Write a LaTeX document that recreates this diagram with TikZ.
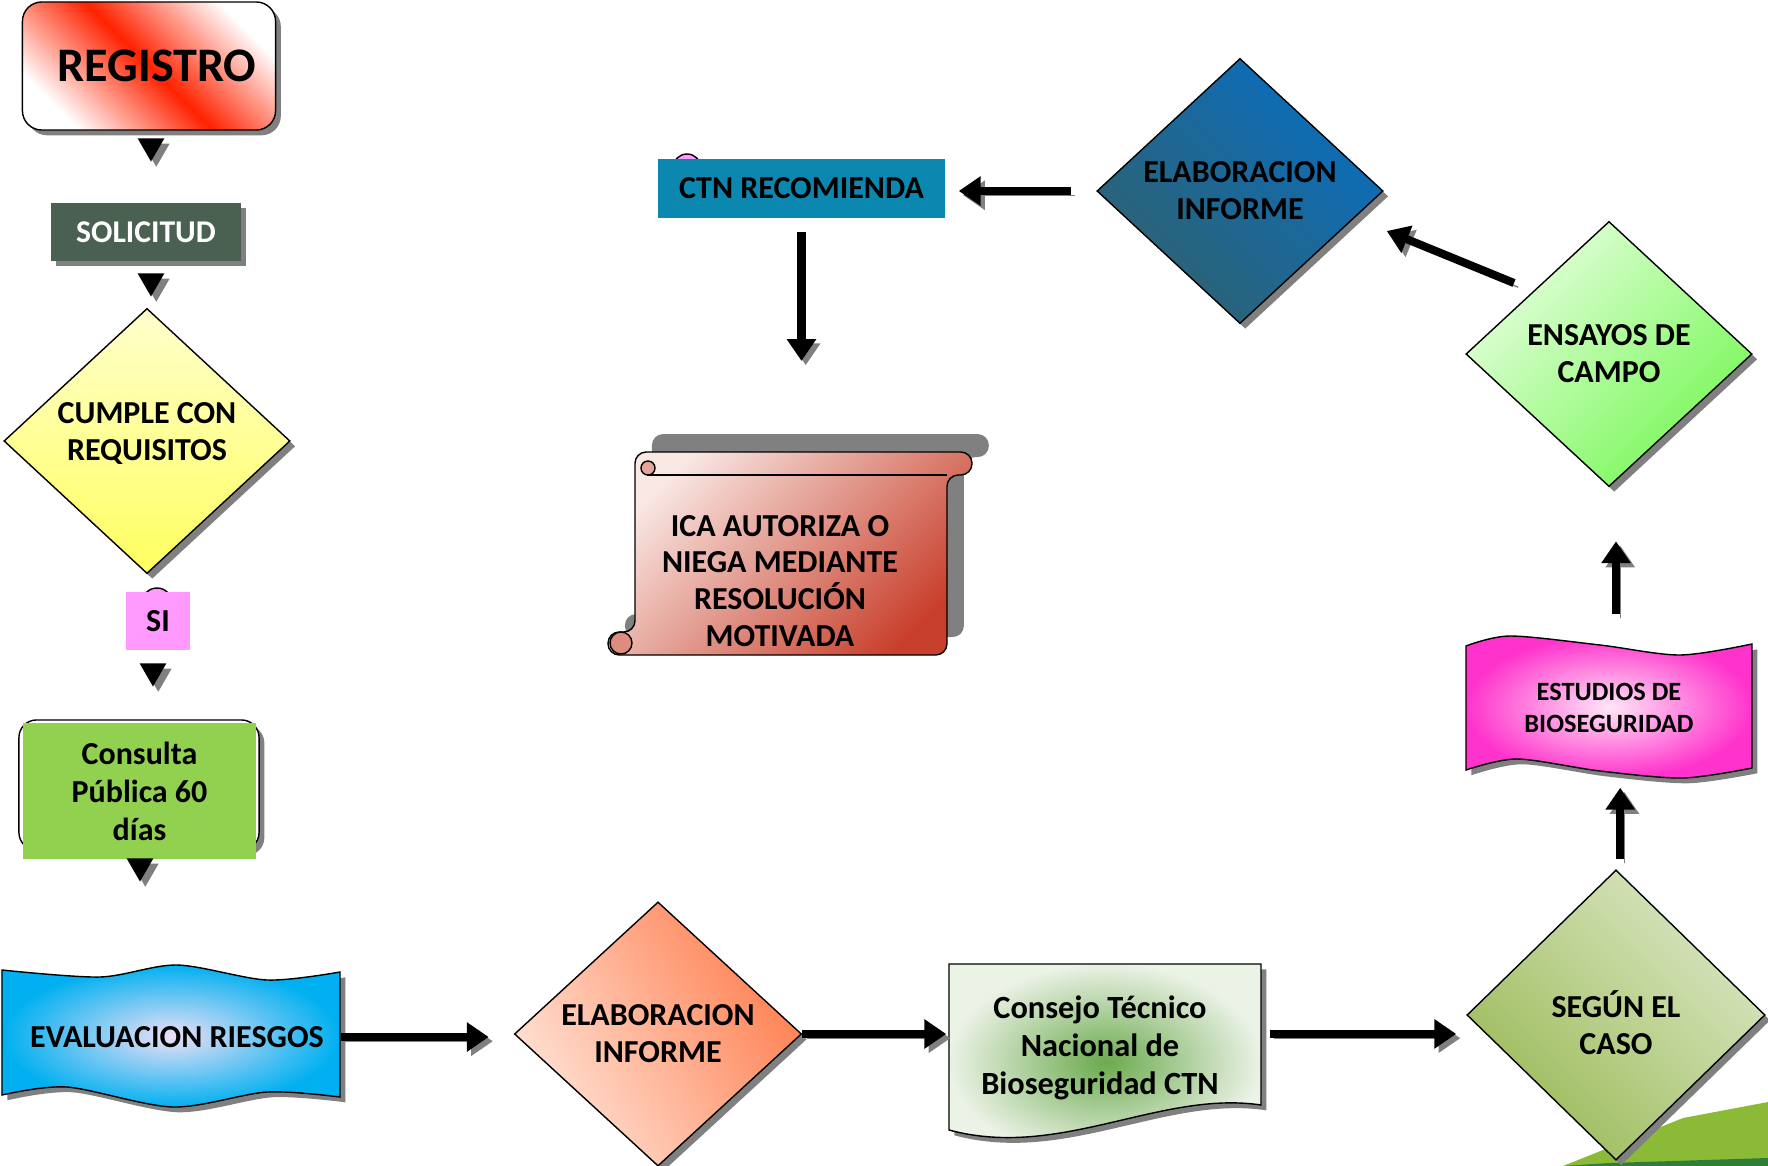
\documentclass[tikz,border=0pt]{standalone}
\usepackage{fontspec}
\setmainfont{Carlito}
\usetikzlibrary{shapes.geometric,shadows,arrows.meta,calc}

\definecolor{regred}{HTML}{FF2200}
\definecolor{solgreen}{HTML}{4A6152}
\definecolor{cumtop}{HTML}{FFFFCC}
\definecolor{cumbot}{HTML}{FFFF60}
\definecolor{sipink}{HTML}{FF99FF}
\definecolor{conslime}{HTML}{92D050}
\definecolor{evblue}{HTML}{00B0F0}
\definecolor{evlav}{HTML}{ECE0F6}
\definecolor{elpeach}{HTML}{FFE3D6}
\definecolor{elcoral}{HTML}{FF7F50}
\definecolor{ctngreen}{HTML}{6BAA4E}
\definecolor{ctnpale}{HTML}{EBF2E6}
\definecolor{segdark}{HTML}{9BBB59}
\definecolor{seglight}{HTML}{DAE6C3}
\definecolor{estmag}{HTML}{FF33CC}
\definecolor{estpale}{HTML}{FFE6F7}
\definecolor{enspale}{HTML}{E4FFDC}
\definecolor{ensgreen}{HTML}{78F858}
\definecolor{infteal}{HTML}{2F6170}
\definecolor{infblue}{HTML}{0A6EBD}
\definecolor{recblue}{HTML}{0B87B0}
\definecolor{icapale}{HTML}{F9E8E4}
\definecolor{icared}{HTML}{C8402C}
\definecolor{hillgreen}{HTML}{8BBB36}
\definecolor{hilldark}{HTML}{2E7E3A}

\newcommand{\shiftlines}[2]{\raisebox{#1}[\height][\depth]{\begin{tabular}{@{}c@{}}#2\end{tabular}}}

\tikzset{
  every node/.style={font=\bfseries\fontsize{9.1}{10.5}\selectfont, align=center},
  shadowed/.style={drop shadow={shadow xshift=1.5pt, shadow yshift=-1.5pt, fill=black!50, opacity=1}},
  decision/.style={diamond, draw, thin, inner sep=0pt, minimum width=2.86cm, minimum height=2.65cm, shadowed},
  plainbox/.style={rectangle, inner sep=0pt},
  headtri/.style={regular polygon, regular polygon sides=3, shape border rotate=180, fill=black, inner sep=0pt, minimum size=0.31cm, shadowed},
  bigarrow/.style={line width=2.3pt, -{Triangle[length=6.2pt,width=8pt]}, preaction={draw=black!50, transform canvas={shift={(1.2pt,-1.2pt)}}}},
  pathshadow/.style={preaction={fill=black!50, transform canvas={shift={(1.5pt,-1.5pt)}}}},
}

\begin{document}
\begin{tikzpicture}[x=0.01cm, y=-0.01cm]
  \useasboundingbox (0,0) rectangle (1768,1166);

  % ground, bottom right
  \fill[hillgreen] (1563,1166) -- (1683,1118) -- (1768,1102) -- (1768,1166) -- cycle;
  \fill[hilldark] (1563,1166) -- (1610,1163) -- (1768,1158) -- (1768,1166) -- cycle;

  % left column
  \node[plainbox, draw, thin, rounded corners=5.5pt, minimum width=2.53cm, minimum height=1.28cm,
        left color=white, right color=white, middle color=regred, shading angle=135, shadowed,
        font=\bfseries\fontsize{13.7}{15}\selectfont] (registro) at (149,66) {\hspace*{0.16cm}REGISTRO};
  \node[headtri] (tip1) at (151,146) {};
  \node[plainbox, fill=solgreen, text=white, minimum width=1.9cm, minimum height=0.58cm, shadowed,
        font=\bfseries\fontsize{9}{10}\selectfont] (solicitud) at (146,232) {SOLICITUD};
  \node[headtri] (tip2) at (151,281) {};
  \node[decision, top color=cumtop, bottom color=cumbot] (cumple) at (147,441) {\shiftlines{0.06cm}{CUMPLE CON\\REQUISITOS}};
  \node[circle, draw, thin, fill=sipink, minimum size=0.3cm, inner sep=0pt] (sidot) at (157,603) {};
  \node[plainbox, fill=sipink, minimum width=0.63cm, minimum height=0.58cm] (si) at (158,621) {SI};
  \node[headtri] (tip3) at (153,671) {};
  \node[plainbox, draw, thin, rounded corners=5pt, fill=white, minimum width=2.4cm, minimum height=1.3cm, shadowed] (consback) at (139,785) {};
  \node[plainbox, fill=conslime, minimum width=2.33cm, minimum height=1.36cm,
        font=\bfseries\fontsize{9.1}{10.8}\selectfont] (consulta) at (139.5,791) {Consulta\\Pública 60\\días};
  \node[headtri] (tip4) at (140,866) {};

  % bottom row
  \shade[draw, thin, inner color=evlav, outer color=evblue, pathshadow]
    plot[smooth] coordinates {(2,970) (100,977) (177,965) (267,980) (340,972)}
    -- plot[smooth] coordinates {(340,1097) (267,1092) (173,1107) (67,1087) (2,1095)} -- cycle;
  \node[plainbox, minimum width=3.26cm, minimum height=1.4cm] (evr) at (177,1037) {EVALUACION RIESGOS};

  \node[decision, minimum width=2.87cm, minimum height=2.64cm,
        left color=elpeach, right color=elcoral, shading angle=120] (elab1) at (658,1034) {ELABORACION\\INFORME};

  \shade[draw, thin, inner color=ctngreen, outer color=ctnpale, pathshadow]
    (949,964) -- (1261,964) -- (1261,1105) .. controls (1160,1090) and (1060,1160) .. (949,1130) -- cycle;
  \node[plainbox, minimum width=3.02cm, minimum height=1.66cm,
        font=\bfseries\fontsize{9.2}{10.8}\selectfont] (consejo) at (1100,1048) {Consejo Técnico\\Nacional de\\Bioseguridad CTN};

  \node[decision, minimum width=2.98cm, minimum height=2.9cm,
        left color=segdark, right color=seglight, shading angle=135] (segun) at (1616,1015) {\shiftlines{-0.13cm}{SEGÚN EL\\CASO}};

  % right column
  \shade[draw, thin, inner color=estpale, outer color=estmag, pathshadow]
    plot[smooth] coordinates {(1466,646) (1510,636) (1600,645) (1680,655) (1752,644)}
    -- plot[smooth] coordinates {(1752,768) (1683,778) (1600,771) (1517,759) (1466,770)} -- cycle;
  \node[plainbox, minimum width=2.86cm, minimum height=1.1cm,
        font=\bfseries\fontsize{7.5}{9}\selectfont] (estudios) at (1609,708) {ESTUDIOS DE\\BIOSEGURIDAD};

  \node[decision, left color=enspale, right color=ensgreen, shading angle=45] (ensayos) at (1609,354) {ENSAYOS DE\\CAMPO};
  \node[decision, left color=infteal, right color=infblue, shading angle=135] (elab2) at (1240,191) {ELABORACION\\INFORME};

  % top middle
  \node[circle, draw, thin, fill=sipink, minimum size=0.28cm, inner sep=0pt] (ctndot) at (687,168) {};
  \node[plainbox, fill=recblue, minimum width=2.87cm, minimum height=0.59cm] (ctn) at (801.5,188.5) {CTN RECOMIENDA};

  % scroll
  \shade[draw, thin, rounded corners=3.2pt, left color=icapale, right color=icared, shading angle=45,
         preaction={fill=black!50, transform canvas={shift={(4.8pt,5.1pt)}}}]
    (635,475) -- (635,452) -- (972,452) -- (972,475) -- (947,475) -- (947,655) -- (608,655) -- (608,632) -- (635,632) -- cycle;
  \draw[thin] (647,475) -- (947,475);
  \draw[thin, fill=icapale!60!icared] (648,468) circle[radius=7];
  \draw[thin, fill=icapale!45!icared] (621,643) circle[radius=11];
  \node[plainbox] (ica) at (780,581) {ICA AUTORIZA O\\NIEGA MEDIANTE\\RESOLUCIÓN\\MOTIVADA};
  \coordinate (icatop) at (800,452);

  % connectors
  \draw[bigarrow, shorten >=0.25cm] (evr.east) -- (evr.east -| elab1.west);
  \draw[bigarrow, shorten >=0.02cm] (elab1.east) -- (elab1.east -| consejo.west);
  \draw[bigarrow, shorten <=0.18cm, shorten >=0.1cm] ([yshift=4pt]consejo.east) -- ([yshift=4pt]consejo.east -| segun.west);
  \draw[bigarrow, shorten <=0.1cm, shorten >=0.24cm] ([xshift=1.2pt]segun.north) -- ([xshift=1.2pt]segun.north |- estudios.south);
  \draw[bigarrow, shorten <=0.38cm, shorten >=0.54cm] ([xshift=2pt]estudios.north) -- ([xshift=2pt]estudios.north |- ensayos.south);
  \draw[bigarrow] ($(ensayos.center)+(-95,-71)$) -- ($(elab2.east)+(3,40)$);
  \draw[bigarrow, shorten <=0.25cm, shorten >=0.13cm] (elab2.west) -- (elab2.west -| ctn.east);
  \draw[bigarrow, shorten <=0.13cm, shorten >=0.91cm] (ctn.south) -- (ctn.south |- icatop);
\end{tikzpicture}
\end{document}
